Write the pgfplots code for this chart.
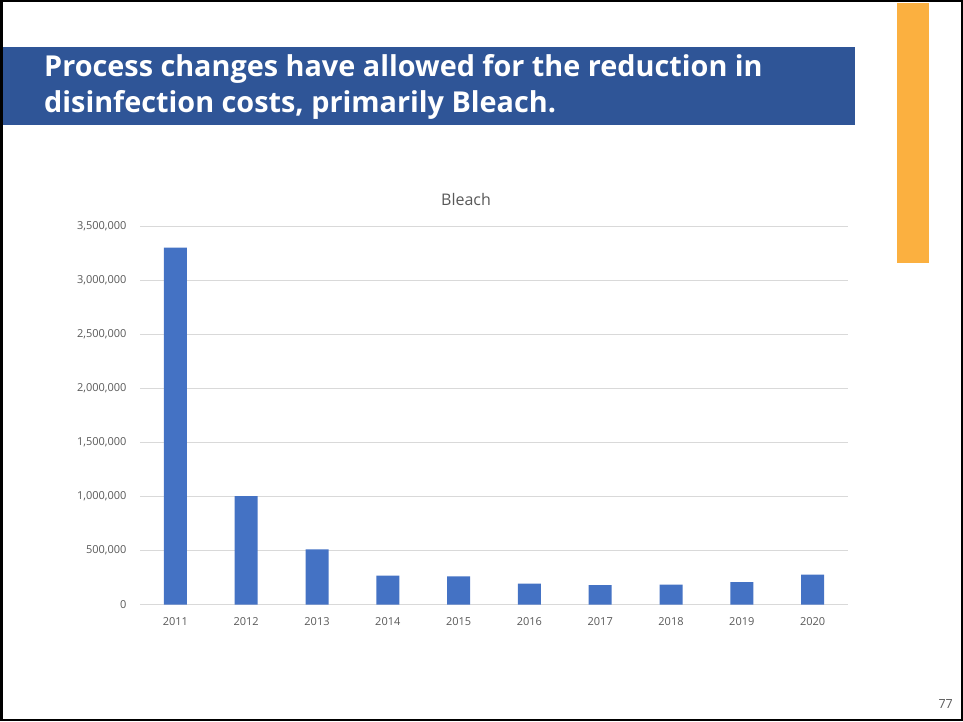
\documentclass[border=0pt]{standalone}
\usepackage{fontspec}
\setmainfont{Open Sans}
\usepackage{pgfplots}
\pgfplotsset{compat=1.18}
\definecolor{barblue}{HTML}{4472C4}
\definecolor{bannerblue}{HTML}{2F5597}
\definecolor{slideorange}{HTML}{FBB040}
\definecolor{gridgray}{HTML}{D9D9D9}
\definecolor{textgray}{HTML}{595959}
\begin{document}
\begin{tikzpicture}
\path[use as bounding box] (0pt,0pt) rectangle (963pt,721pt);
\fill[bannerblue] (3pt,596pt) rectangle (855pt,674pt);
\fill[slideorange] (897pt,458pt) rectangle (929pt,718pt);
\draw[line width=2.5pt] (1.25pt,1.25pt) rectangle (961.75pt,719.75pt);
\node[anchor=base west, text=white, font=\fontsize{28.8}{34}\selectfont\bfseries, inner sep=0] at (44pt,644pt) {Process changes have allowed for the reduction in};
\node[anchor=base west, text=white, font=\fontsize{28.8}{34}\selectfont\bfseries, inner sep=0] at (44pt,608pt) {disinfection costs, primarily Bleach.};
\node[anchor=base, text=textgray, font=\fontsize{16}{18}\selectfont, inner sep=0] at (466pt,515pt) {Bleach};
\node[anchor=base east, text=textgray, font=\fontsize{12.5}{14}\selectfont, inner sep=0] at (953pt,13pt) {77};
\begin{axis}[
  at={(140pt,116.5pt)}, anchor=south west,
  scale only axis, width=708pt, height=378.5pt,
  xmin=-0.5, xmax=9.5, ymin=0, ymax=3500000,
  axis line style={draw=none},
  tick style={draw=none},
  ymajorgrids, major grid style={draw=gridgray, line width=0.8pt},
  xtick={0,...,9},
  xticklabels={2011,2012,2013,2014,2015,2016,2017,2018,2019,2020},
  ytick={0,500000,1000000,1500000,2000000,2500000,3000000,3500000},
  scaled y ticks=false,
  /pgf/number format/fixed,
  /pgf/number format/1000 sep={,},
  /pgf/number format/precision=0,
  /pgf/number format/assume math mode=true,
  tick label style={text=textgray, font=\fontsize{11}{12}\selectfont},
  xticklabel style={yshift=-9pt},
  yticklabel style={xshift=-10pt},
]
\addplot[ybar, bar width=23pt, fill=barblue, draw=none] coordinates {
(0,3300000) (1,1003000) (2,510000) (3,266000) (4,261000)
(5,192000) (6,180000) (7,183000) (8,208000) (9,276000)};
\end{axis}
\end{tikzpicture}
\end{document}
